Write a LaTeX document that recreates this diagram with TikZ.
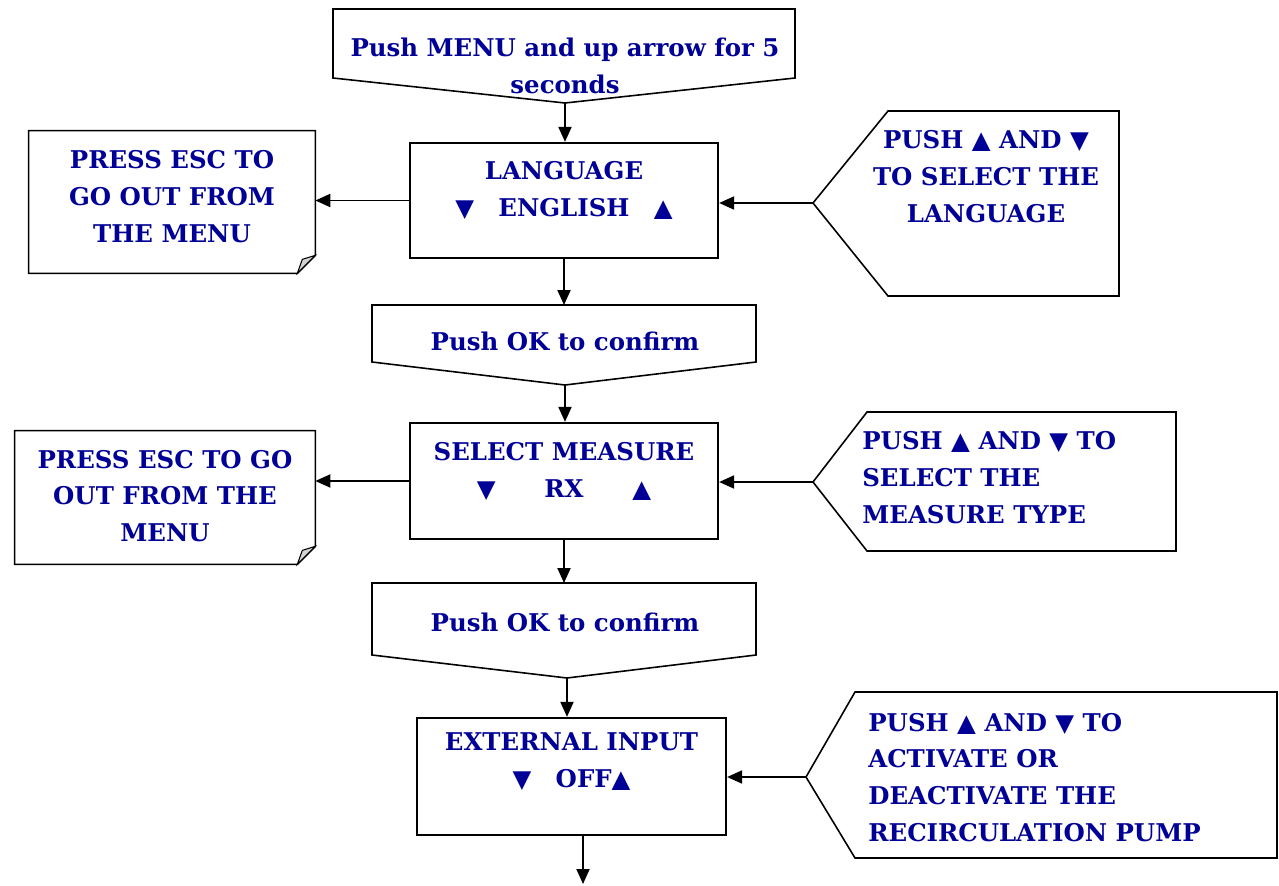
\documentclass[tikz,border=0pt]{standalone}
\usepackage{fontspec}
\setmainfont{DejaVu Serif}
\newfontfamily\symfont{DejaVu Sans}
\usepackage{tikz}
\usetikzlibrary{arrows.meta}

\definecolor{txtblue}{RGB}{0,0,150}
\newcommand{\upmark}{{\symfont ▲}}
\newcommand{\downmark}{{\symfont ▼}}

\begin{document}
\begin{tikzpicture}
	[
	x=0.02cm, y=-0.02cm,
	txt/.style={text=txtblue, font=\fontsize{13.9}{21}\selectfont\bfseries, align=center, inner sep=0pt},
	box/.style={draw, line width=1.3pt, inner sep=0pt, minimum width=6.16cm, minimum height=2.3cm},
	note/.style={inner sep=0pt},
	shp/.style={line width=0.9pt, line join=miter},
	arr/.style={line width=1.1pt, -{Triangle[length=3mm, width=2.6mm]}},
	]
		\useasboundingbox (0,0) rectangle (1279,886);
		
		% start
		\draw[shp] (333,9) -- (795,9) -- (795,78) -- (565,103) -- (333,78) -- cycle;
		\coordinate (start) at (565,103);
		\node[txt] (startt) at (565,66) {Push MENU and up arrow for 5\\seconds};
		
		% language
		\node[box] (lang) at (564,200.5) {};
		\node[txt] (langt) at (564,190) {LANGUAGE\\\downmark\quad ENGLISH\quad\upmark};
		
		\node[note, minimum width=5.72cm, minimum height=2.84cm] (esc1) at (172,202) {};
		\node[txt] (esc1t) at (172,197) {PRESS ESC TO\\GO OUT FROM\\THE MENU};
		
		\draw[shp] (813,203) -- (888,111) -- (1119,111) -- (1119,296) -- (888,296) -- cycle;
		\coordinate (pushlang) at (813,203);
		\node[txt] (pushlangt) at (986,177) {PUSH \upmark\ AND \downmark\\TO SELECT THE\\LANGUAGE};
		
		% first confirm
		\draw[shp] (372,305) -- (756,305) -- (756,362) -- (565,385) -- (372,362) -- cycle;
		\coordinate (ok1) at (565,385);
		\node[txt] (ok1t) at (565,341) {Push OK to confirm};
		
		% measure
		\node[box, minimum height=2.32cm] (meas) at (564,481) {};
		\node[txt] (meast) at (564,471.5) {SELECT MEASURE\\\downmark\qquad RX\qquad\upmark};
		
		\node[note, minimum width=6.0cm, minimum height=2.66cm] (esc2) at (165,497.5) {};
		\node[txt] (esc2t) at (165,496) {PRESS ESC TO GO\\OUT FROM THE\\MENU};
		
		\draw[shp] (813,482) -- (867,412) -- (1176,412) -- (1176,551) -- (867,551) -- cycle;
		\coordinate (pushmeas) at (813,482);
		\node[txt, anchor=west, align=left] (pushmeast) at (862,478) {PUSH \upmark\ AND \downmark\ TO\\SELECT THE\\MEASURE TYPE};
		
		% second confirm
		\draw[shp] (372,583) -- (756,583) -- (756,655) -- (567,678) -- (372,655) -- cycle;
		\coordinate (ok2) at (567,678);
		\node[txt] (ok2t) at (565,622) {Push OK to confirm};
		
		% external input
		\node[box, minimum width=6.18cm, minimum height=2.34cm] (ext) at (571.5,776.5) {};
		\node[txt] (extt) at (571.5,762) {EXTERNAL INPUT\\\downmark\quad OFF\upmark};
		
		\draw[shp] (806,777) -- (855,692) -- (1277,692) -- (1277,858) -- (855,858) -- cycle;
		\coordinate (pushext) at (806,777);
		\node[txt, anchor=west, align=left] (pushextt) at (868,777.5) {PUSH \upmark\ AND \downmark\ TO\\ACTIVATE OR\\DEACTIVATE THE\\RECIRCULATION PUMP};
		
		\coordinate (out) at (583,884);
		
		% notes with folded corner
		\foreach \n in {esc1,esc2} {
			\draw[shp] (\n.north west) -- (\n.north east) -- ([yshift=0.36cm]\n.south east)
				-- ([xshift=-0.36cm]\n.south east) -- (\n.south west) -- cycle;
			\draw[line width=0.6pt, fill=gray!35] ([yshift=0.36cm]\n.south east) -- ([xshift=-0.26cm, yshift=0.28cm]\n.south east)
				-- ([xshift=-0.36cm]\n.south east) -- cycle;
		}
		
		\draw[arr] (start) -- (start |- lang.north);
		\draw[arr] (lang.west) -- (lang.west -| esc1.east);
		\draw[arr] (pushlang) -- (pushlang -| lang.east);
		\draw[arr] (lang.south) -- (lang.south |- 0,305);
		\draw[arr] (ok1) -- (ok1 |- meas.north);
		\draw[arr] (meas.west) -- (meas.west -| esc2.east);
		\draw[arr] (pushmeas) -- (pushmeas -| meas.east);
		\draw[arr] (meas.south) -- (meas.south |- 0,583);
		\draw[arr] (ok2) -- (ok2 |- ext.north);
		\draw[arr] (pushext) -- (pushext -| ext.east);
		\draw[arr] (out |- ext.south) -- (out);
		
	\end{tikzpicture}
\end{document}
